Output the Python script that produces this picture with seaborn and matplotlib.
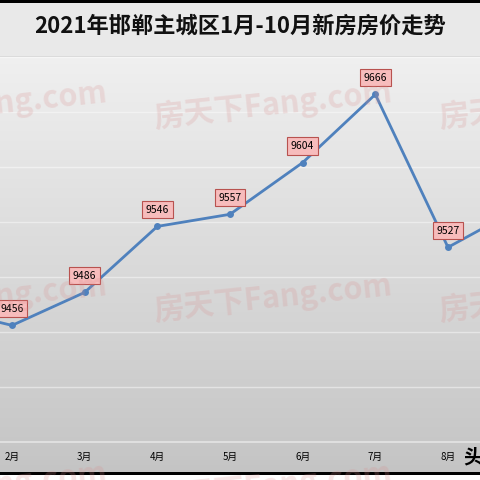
import numpy as np
import seaborn as sns
import matplotlib.pyplot as plt
import pandas as pd

# 2021年邯郸主城区新房均价（元/㎡），9、10月在原图中被裁掉，按走势估计
months = ['1月', '2月', '3月', '4月', '5月', '6月', '7月', '8月', '9月', '10月']
prices = [9472, 9456, 9486, 9546, 9557, 9604, 9666, 9527, 9563, 9590]
title = '2021年邯郸主城区1月-10月新房房价走势'
watermark = '房天下Fang.com'

sns.set_theme(style='white')
plt.rcParams['font.family'] = ['Noto Sans CJK SC', 'DejaVu Sans']

W = H = 480
fig = plt.figure(figsize=(4.8, 4.8), dpi=100)

# 背景：标题栏 + 渐变绘图区 + 上下黑边
bg = fig.add_axes([0, 0, 1, 1], zorder=0)
img = np.ones((H, 1, 3))
img[0:3] = 0.0
img[3:56] = 0.915
img[56] = 0.86
img[57:472] = np.linspace(0.94, 0.77, 415)[:, None, None]
img[472:475] = 0.0
bg.imshow(img, aspect='auto', extent=[0, W, H, 0])
bg.set_xlim(0, W)
bg.set_ylim(H, 0)
bg.axis('off')

# 主图：坐标轴故意超出画布，复现原图的裁剪效果
step = 436 / 6
left_px = 12 - 1.5 * step
ax = fig.add_axes([left_px / W, (H - 442) / H, 10 * step / W, 385 / H], zorder=1)
ax.set_facecolor('none')

df = pd.DataFrame({'月份': range(len(months)), '房价': prices})
sns.lineplot(data=df, x='月份', y='房价', ax=ax, color='#4f81bd', linewidth=2.0,
             marker='o', markersize=5, markeredgewidth=0, zorder=3)

for i, v in enumerate(prices):
    ax.annotate(str(v), (i, v), xytext=(0, 12), textcoords='offset points',
                ha='center', va='center', fontsize=7.5, color='black', zorder=4,
                bbox=dict(boxstyle='square,pad=0.35', fc='#f7bcbc', ec='#b8524f', lw=0.8))

ax.set_xlim(-0.5, 9.5)
ax.set_ylim(9350, 9700)
ax.set_yticks(np.arange(9350, 9701, 50))
ax.yaxis.grid(True, color='white', alpha=0.45, linewidth=1.0)
ax.set_xticks(range(len(months)))
ax.set_xticklabels(months, fontsize=7, color='black')
ax.tick_params(axis='x', length=0, pad=7)
ax.tick_params(axis='y', left=False, labelleft=False)
ax.set_xlabel('')
ax.set_ylabel('')
for s in ['top', 'left', 'right']:
    ax.spines[s].set_visible(False)
ax.spines['bottom'].set_color('#e4e4e4')
ax.spines['bottom'].set_linewidth(1.2)

fig.text(0.5, 1 - 26 / H, title, ha='center', va='center', fontsize=16,
         fontweight='bold', color='#111111')

# 水印
for row_y in [127, 320, 508]:
    for col_x in [-130, 155, 440]:
        fig.text(col_x / W, 1 - row_y / H, watermark, fontsize=22, fontweight='bold',
                 color='#d98c8c', alpha=0.22, rotation=6, rotation_mode='anchor',
                 ha='left', va='baseline', zorder=10)

fig.text(463 / W, 1 - 458 / H, '头条', fontsize=14, fontweight='bold',
         color='black', ha='left', va='center', zorder=11)

fig.savefig('out.png', dpi=100)
